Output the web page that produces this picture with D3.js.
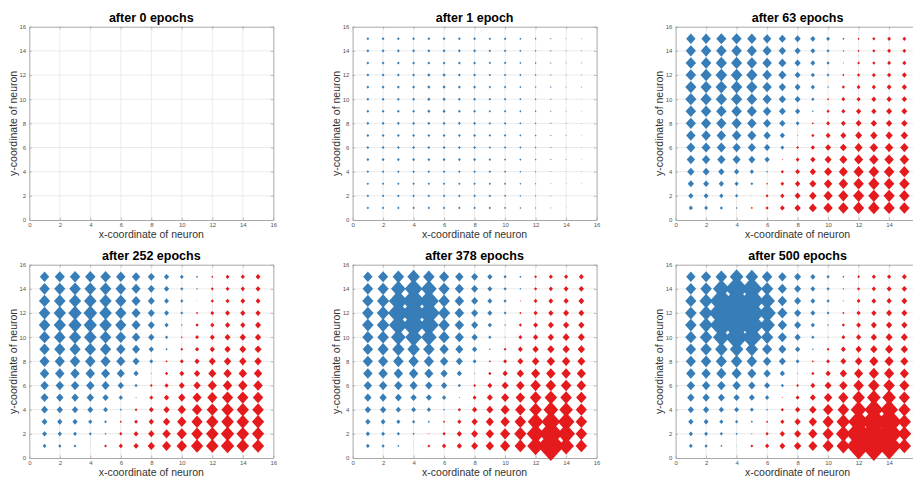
<!DOCTYPE html>
<html>
<head>
<meta charset="utf-8">
<script src="https://cdn.jsdelivr.net/npm/d3@7"></script>
<style>
  body { margin: 0; background: #fff; }
  svg text { font-family: "Liberation Sans", Arial, Helvetica, sans-serif; }
</style>
</head>
<body>
<svg id="chart" width="913" height="480"></svg>
<script>
// snapshot titles, one per subplot
var titles = ["after 0 epochs", "after 1 epoch", "after 63 epochs",
              "after 252 epochs", "after 378 epochs", "after 500 epochs"];
var ticks = [0, 2, 4, 6, 8, 10, 12, 14, 16];
// neuron grid: columns x = 1..15, rows listed top to bottom y = 15..1
var neuronX = [1, 2, 3, 4, 5, 6, 7, 8, 9, 10, 11, 12, 13, 14, 15];
var neuronY = [15, 14, 13, 12, 11, 10, 9, 8, 7, 6, 5, 4, 3, 2, 1];

// weight magnitude per neuron, sign = winning class (+ blue, - red)
var epoch0 = [];
var epoch1 = [
  [8,8,8,8,8,8,8,8,7,7,6,5,4,3,3],
  [8,8,8,8,8,8,8,8,7,7,6,5,4,3,3],
  [8,8,8,8,8,8,8,8,7,7,6,5,4,3,3],
  [8,8,8,8,9,9,8,8,7,7,6,5,4,3,3],
  [8,8,8,8,9,9,8,8,7,7,6,5,4,3,3],
  [8,8,8,8,9,9,8,8,7,7,6,5,4,3,2],
  [8,8,8,8,9,9,8,8,7,7,6,5,4,3,2],
  [8,8,8,8,8,8,8,8,7,7,6,5,4,3,2],
  [8,8,8,8,8,8,8,8,7,7,6,5,4,3,2],
  [8,8,8,8,8,8,8,8,7,7,6,5,4,3,2],
  [8,8,8,8,8,8,8,8,7,6,6,5,4,3,2],
  [7,7,7,7,7,7,7,7,7,6,5,4,3,2,2],
  [7,7,7,7,7,7,7,7,7,6,5,4,3,2,2],
  [7,7,7,7,7,7,7,7,7,6,5,4,3,2,1],
  [7,7,7,7,7,7,7,7,7,6,5,4,3,2,1]
];
var epoch63 = [
  [27,27,29,29,27,24,21,18,15,11,6,-6,-9,-11,-11],
  [29,30,30,30,29,26,21,18,14,9,5,-6,-9,-11,-11],
  [30,30,32,32,30,27,23,18,14,9,-3,-8,-9,-11,-12],
  [30,32,33,33,32,27,23,17,12,8,-6,-9,-11,-12,-14],
  [32,32,33,33,32,27,21,17,12,5,-9,-11,-12,-14,-15],
  [32,32,32,32,30,26,21,17,9,-6,-11,-12,-14,-15,-15],
  [30,30,30,30,29,24,20,15,5,-9,-12,-15,-15,-17,-17],
  [29,29,29,29,27,23,18,11,-6,-11,-14,-17,-18,-18,-18],
  [27,27,27,27,26,21,15,3,-9,-14,-17,-20,-21,-21,-21],
  [26,26,26,24,23,18,11,-8,-12,-17,-20,-23,-24,-24,-24],
  [24,24,24,23,20,15,-3,-11,-15,-20,-23,-26,-27,-27,-27],
  [21,20,18,15,12,5,-9,-14,-18,-23,-26,-29,-30,-30,-29],
  [18,17,15,12,8,-5,-11,-15,-20,-24,-27,-30,-32,-30,-30],
  [15,14,12,9,2,-8,-12,-17,-21,-26,-29,-32,-32,-32,-30],
  [12,11,9,5,-6,-9,-14,-18,-23,-27,-30,-32,-33,-32,-30]
];
var epoch252 = [
  [27,29,30,30,30,27,24,20,15,11,6,-6,-11,-12,-14],
  [30,32,33,33,33,30,26,20,15,9,5,-8,-11,-12,-14],
  [32,33,35,36,35,32,26,20,14,9,-2,-9,-12,-14,-14],
  [33,35,38,39,36,32,26,20,14,8,-6,-11,-14,-15,-15],
  [33,35,38,38,36,32,26,20,12,5,-9,-12,-15,-15,-17],
  [32,33,35,36,33,30,24,18,9,-5,-11,-14,-17,-18,-18],
  [30,32,32,33,32,27,23,15,6,-8,-12,-15,-18,-20,-20],
  [29,29,30,30,29,26,20,11,-6,-11,-15,-20,-21,-21,-21],
  [27,27,27,27,26,23,15,3,-9,-14,-18,-23,-24,-24,-24],
  [24,24,24,24,23,18,9,-8,-12,-17,-21,-26,-27,-27,-27],
  [23,21,21,21,18,12,-3,-11,-15,-21,-26,-29,-32,-32,-30],
  [20,18,18,17,14,6,-8,-14,-18,-24,-29,-32,-35,-35,-33],
  [17,15,15,12,8,-6,-11,-15,-21,-27,-32,-35,-36,-36,-35],
  [14,12,11,8,-5,-9,-14,-18,-24,-29,-33,-36,-38,-36,-35],
  [11,9,8,2,-8,-12,-15,-21,-26,-30,-35,-36,-38,-36,-35]
];
var epoch378 = [
  [27,29,33,36,33,29,24,20,15,9,6,-8,-12,-12,-14],
  [30,32,42,51,45,32,26,20,14,9,5,-9,-12,-14,-15],
  [32,35,54,66,57,33,27,20,14,9,-3,-11,-14,-15,-17],
  [33,36,60,72,63,35,27,20,14,8,-6,-12,-15,-17,-17],
  [33,36,54,66,57,33,27,20,12,5,-9,-14,-17,-18,-18],
  [32,33,42,48,45,32,26,18,9,3,-11,-15,-18,-20,-20],
  [30,32,35,36,33,27,23,15,5,-8,-14,-18,-21,-21,-21],
  [29,29,30,30,29,24,20,11,-6,-11,-17,-21,-24,-24,-23],
  [27,27,27,27,26,21,15,3,-9,-15,-21,-26,-27,-27,-26],
  [24,24,24,23,21,18,9,-8,-14,-20,-24,-30,-30,-30,-27],
  [21,21,20,18,17,12,-3,-11,-17,-23,-27,-33,-36,-33,-30],
  [18,18,15,14,12,5,-9,-15,-20,-26,-30,-36,-42,-39,-32],
  [15,14,12,9,6,-6,-12,-18,-23,-27,-33,-45,-54,-48,-33],
  [12,11,9,6,-3,-9,-15,-20,-24,-29,-35,-51,-69,-51,-33],
  [11,9,6,2,-8,-12,-15,-20,-24,-29,-33,-48,-78,-45,-33]
];
var epoch500 = [
  [27,29,33,39,36,30,24,20,15,9,6,-8,-12,-12,-14],
  [30,33,48,66,60,35,26,20,14,9,5,-9,-12,-14,-15],
  [32,38,66,72,70,45,27,20,14,9,-3,-11,-14,-15,-17],
  [33,39,72,92,72,50,29,20,14,8,-6,-12,-15,-17,-17],
  [33,39,66,78,70,45,27,20,12,5,-9,-14,-17,-18,-18],
  [32,36,48,66,58,35,26,18,9,3,-11,-15,-18,-20,-20],
  [30,33,36,39,36,29,23,15,5,-8,-14,-18,-21,-23,-21],
  [29,30,32,33,30,24,20,11,-6,-11,-17,-21,-26,-26,-23],
  [27,27,29,29,26,21,15,3,-9,-15,-21,-26,-29,-29,-26],
  [24,24,24,24,21,17,9,-8,-14,-20,-24,-30,-33,-33,-29],
  [21,21,20,18,17,12,-3,-11,-17,-24,-29,-36,-39,-39,-32],
  [18,18,15,14,11,5,-9,-15,-21,-29,-33,-45,-54,-51,-35],
  [15,14,12,9,6,-6,-12,-18,-24,-32,-39,-60,-72,-72,-38],
  [12,11,9,6,-3,-9,-15,-20,-26,-32,-42,-72,-76,-74,-39],
  [11,9,6,2,-8,-12,-17,-21,-26,-32,-39,-70,-78,-70,-38]
];
var panels = [epoch0, epoch1, epoch63, epoch252, epoch378, epoch500];

var blue = "#377eb8", red = "#e41a1c";
var W = 913;
var colLeft = [29.3, 352.6, 675.6], rowTop = [26.7, 264.7];
var pw = 244, ph = 193.3;

var svg = d3.select("#chart");

var x = d3.scaleLinear().domain([0, 16]).range([0, pw]);
var y = d3.scaleLinear().domain([0, 16]).range([ph, 0]);
// marker diagonal (px) from weight magnitude
var size = d3.scaleLinear().domain([0, 100]).range([0, 35]);

function diamond(w) {
  var a = w / 2, b = w * 0.55;
  return "M0," + (-b) + "L" + a + ",0L0," + b + "L" + (-a) + ",0Z";
}

panels.forEach(function(m, i) {
  var left = colLeft[i % 3];
  var g = svg.append("g")
    .attr("transform", "translate(" + left + "," + rowTop[Math.floor(i / 3)] + ")");

  // grid
  g.append("g").selectAll("line")
    .data(ticks.slice(1, -1)).enter().append("line")
    .attr("x1", function(d) { return x(d); }).attr("x2", function(d) { return x(d); })
    .attr("y1", 0).attr("y2", ph)
    .attr("stroke", "#e6e6e6").attr("stroke-width", 0.8);
  g.append("g").selectAll("line")
    .data(ticks.slice(1, -1)).enter().append("line")
    .attr("y1", function(d) { return y(d); }).attr("y2", function(d) { return y(d); })
    .attr("x1", 0).attr("x2", pw)
    .attr("stroke", "#e6e6e6").attr("stroke-width", 0.8);

  // axes (ticks point inward, box on)
  var ax = [
    [d3.axisBottom(x), "translate(0," + ph + ")", true],
    [d3.axisTop(x), "translate(0,0)", false],
    [d3.axisLeft(y), "translate(0,0)", true],
    [d3.axisRight(y), "translate(" + pw + ",0)", false]
  ];
  ax.forEach(function(a) {
    var axis = a[0].tickValues(ticks).tickSizeInner(-2.5).tickSizeOuter(0).tickPadding(3.2);
    if (!a[2]) axis.tickFormat("");
    var ag = g.append("g").attr("transform", a[1]).call(axis);
    ag.select(".domain").attr("stroke", "#a8a8a8").attr("stroke-width", 1);
    ag.selectAll(".tick line").attr("stroke", "#a8a8a8").attr("stroke-width", 0.8);
    ag.selectAll(".tick text").attr("fill", "#555").style("font-size", "6px")
      .style("font-family", '"Liberation Sans", Arial, sans-serif');
  });
  // labels that fall past the page edge are cropped away, as in the original
  g.selectAll(".tick text").filter(function(d) {
    return this.parentNode.parentNode.getAttribute("transform") === "translate(0," + ph + ")" &&
      left + x(d) + 3 > W;
  }).remove();

  // markers
  var pts = [];
  m.forEach(function(row, r) {
    row.forEach(function(v, c) {
      if (v !== 0) pts.push({ x: neuronX[c], y: neuronY[r], v: v });
    });
  });
  g.append("g").selectAll("path")
    .data(pts).enter().append("path")
    .attr("transform", function(d) { return "translate(" + x(d.x) + "," + y(d.y) + ")"; })
    .attr("d", function(d) { return diamond(size(Math.abs(d.v))); })
    .attr("fill", function(d) { return d.v > 0 ? blue : red; });

  // labels
  g.append("text")
    .attr("x", pw / 2).attr("y", -4.3)
    .attr("text-anchor", "middle")
    .style("font-size", "12.5px").style("font-weight", "bold")
    .attr("fill", "#000")
    .text(titles[i]);
  g.append("text")
    .attr("x", pw / 2).attr("y", ph + 18.5)
    .attr("text-anchor", "middle")
    .style("font-size", "10.5px")
    .attr("fill", "#333")
    .text("x-coordinate of neuron");
  g.append("text")
    .attr("transform", "translate(-12.5," + (ph / 2) + ") rotate(-90)")
    .attr("text-anchor", "middle")
    .style("font-size", "10.5px")
    .attr("fill", "#333")
    .text("y-coordinate of neuron");
});
</script>
</body>
</html>
